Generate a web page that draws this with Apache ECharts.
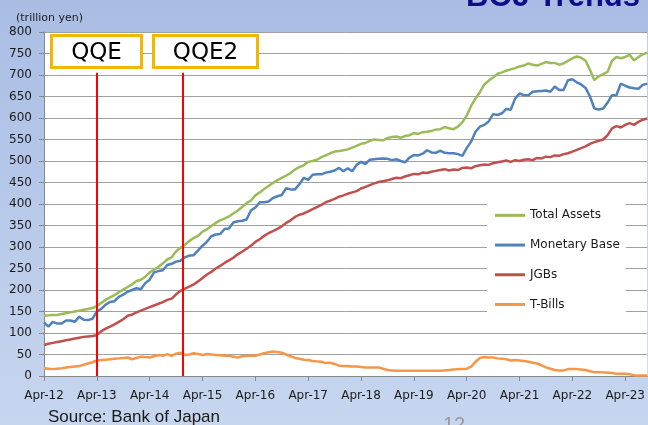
<!DOCTYPE html>
<html>
<head>
<meta charset="utf-8">
<script src="https://cdn.jsdelivr.net/npm/echarts@6/dist/echarts.min.js"></script>
<style>
html, body { margin: 0; padding: 0; }
#chart { width: 648px; height: 425px; background: linear-gradient(#a9bde4, #c7d6ef); }
</style>
</head>
<body>
<div id="chart"></div>
<script>
// monthly, Apr-12 (index 0) .. Sep-23 (index 137)
const tickLabels = ['Apr-12', 'Apr-13', 'Apr-14', 'Apr-15', 'Apr-16', 'Apr-17',
  'Apr-18', 'Apr-19', 'Apr-20', 'Apr-21', 'Apr-22', 'Apr-23'];

const totalAssets = [
  140, 141, 142, 142, 144, 146, 148, 150, 152, 154, 156, 158, 163,
  170, 177, 183, 188, 195, 201, 207, 213, 221, 224, 231, 241,
  247, 254, 262, 271, 276, 290, 298, 305, 314, 321, 326, 336,
  341, 349, 356, 362, 366, 371, 378, 385, 393, 402, 408, 420,
  427, 435, 442, 449, 455, 461, 466, 472, 480, 486, 490, 498,
  500, 503, 509, 513, 518, 522, 523, 525, 527, 531, 535, 540,
  542, 547, 550, 549, 548, 553, 556, 557, 554, 558, 560, 565,
  563, 567, 568, 570, 573, 574, 579, 576, 574, 580, 590, 606,
  628, 645, 660, 678, 687, 694, 703, 706, 710, 713, 716, 720,
  722, 727, 724, 722, 726, 730, 728, 728, 724, 727, 733, 739,
  743, 740, 733, 712, 688, 697, 702, 707, 733, 742, 739, 742,
  747, 734, 742, 748, 752
];
const monetaryBase = [
  124, 115, 126, 122, 122, 129, 129, 126, 138, 131, 130, 133, 150,
  156, 166, 172, 174, 184, 189, 196, 200, 204, 202, 216, 224,
  241, 244, 246, 258, 261, 266, 268, 276, 280, 281, 292, 303,
  312, 325, 329, 330, 342, 343, 357, 360, 361, 364, 385, 392,
  404, 404, 406, 414, 418, 421, 437, 434, 434, 446, 461, 456,
  468, 469, 469, 473, 475, 478, 484, 476, 483, 476, 491, 498,
  493, 503, 504, 505, 506, 505, 502, 504, 500, 497, 508, 514,
  513, 517, 525, 520, 519, 524, 519, 518, 518, 516, 512, 530,
  545, 568, 580, 584, 592, 609, 607, 611, 621, 619, 645, 657,
  653, 653, 661, 662, 663, 664, 661, 673, 665, 665, 688, 690,
  683, 678, 670, 650, 622, 620, 622, 636, 653, 653, 680, 675,
  671, 669, 668, 677, 680
];
const jgbs = [
  72, 75, 77, 79, 81, 83, 85, 87, 89, 91, 92, 93, 95,
  104, 110, 115, 120, 126, 132, 140, 143, 148, 152, 156, 160,
  164, 168, 172, 177, 180, 190, 198, 203, 208, 213, 220, 228,
  236, 242, 250, 256, 263, 269, 275, 283, 289, 296, 303, 312,
  318, 326, 332, 337, 342, 348, 356, 362, 370, 375, 378, 383,
  388, 393, 398, 404, 408, 412, 417, 420, 424, 427, 430, 436,
  440, 444, 448, 451, 453, 455, 458, 461, 460, 464, 467, 470,
  469, 473, 472, 475, 477, 479, 481, 478, 480, 479, 484, 485,
  483, 488, 490, 492, 491, 495, 497, 499, 501, 498, 502, 500,
  503, 504, 502, 507, 506, 510, 509, 513, 512, 516, 518, 522,
  526, 530, 534, 540, 544, 547, 550, 560, 576, 581, 578, 584,
  588, 584, 591, 596, 599
];
const tBills = [
  18, 17, 16, 17, 18, 20, 21, 22, 23, 26, 29, 32, 36,
  37, 38, 39, 40, 41, 42, 43, 39, 42, 45, 44, 43,
  46, 49, 47, 51, 47, 52, 54, 49, 50, 53, 51, 49,
  51, 50, 49, 48, 47, 47, 45, 43, 46, 47, 47, 47,
  50, 53, 55, 57, 56, 54, 50, 46, 42, 40, 38, 37,
  35, 34, 33, 30, 31, 28, 24, 23, 23, 22, 22, 21,
  20, 20, 20, 20, 17, 14, 13, 12, 12, 12, 12, 12,
  12, 12, 12, 12, 12, 12, 13, 14, 15, 16, 16, 17,
  22, 33, 42, 44, 43, 43, 41, 40, 39, 36, 37, 36,
  35, 33, 31, 29, 25, 20, 17, 14, 13, 13, 16, 16,
  16, 15, 14, 11, 9, 9, 8, 8, 7, 5, 5, 5,
  4, 2, 1, 1, 1
];
// policy start months (QQE Apr-13, QQE2 end Oct-14)
const eventMonths = [12, 31.5];

const names = ['Total Assets', 'Monetary Base', 'JGBs', 'T-Bills'];
const colors = ['#9bbb59', '#4f81bd', '#c0504d', '#f79646'];
const values = [totalAssets, monetaryBase, jgbs, tBills];

const font = 'DejaVu Sans';

const series = names.map((name, k) => ({
  name: name,
  type: 'line',
  symbol: 'none',
  showSymbol: false,
  color: colors[k],
  lineStyle: { width: 2.5, color: colors[k] },
  data: values[k].map((v, i) => [i, v]),
  z: 3
}));

series[3].markLine = {
  silent: true,
  symbol: 'none',
  label: { show: false },
  lineStyle: { color: '#ff0000', width: 2, type: 'solid' },
  data: eventMonths.map(m => [{ coord: [m, 0] }, { coord: [m, 705] }])
};

const chart = echarts.init(document.getElementById('chart'));
chart.setOption({
  animation: false,
  grid: {
    left: 44, right: -2, top: 32, bottom: 49,
    show: true, backgroundColor: '#ffffff', borderWidth: 0
  },
  xAxis: {
    type: 'value',
    min: 0,
    max: totalAssets.length - 1,
    interval: 12,
    splitLine: { show: false },
    axisLine: { lineStyle: { color: '#888888' } },
    axisTick: { show: true, length: 5, lineStyle: { color: '#888888' } },
    axisLabel: {
      margin: 14,
      fontFamily: font,
      fontSize: 12,
      color: '#1a1a1a',
      showMaxLabel: false,
      formatter: v => (v % 12 === 0 && tickLabels[v / 12]) ? tickLabels[v / 12] : ''
    }
  },
  yAxis: {
    type: 'value',
    min: 0,
    max: 800,
    interval: 50,
    axisLine: { show: true, lineStyle: { color: '#888888' } },
    axisTick: { show: true, length: 5, lineStyle: { color: '#888888' } },
    splitLine: { lineStyle: { color: '#a0a0a0', width: 1 } },
    axisLabel: { margin: 12, fontFamily: font, fontSize: 12, color: '#1a1a1a' }
  },
  legend: {
    orient: 'vertical',
    left: 487,
    top: 190,
    backgroundColor: '#ffffff',
    padding: [18, 6, 12, 8],
    icon: 'rect',
    itemGap: 15,
    itemWidth: 30,
    itemHeight: 3,
    textStyle: { fontFamily: font, fontSize: 12, color: '#1a1a1a', lineHeight: 14.7 },
    data: names
  },
  graphic: [
    {
      type: 'text',
      style: { x: 640, y: 13, text: 'BOJ Trends', textAlign: 'right', textVerticalAlign: 'bottom',
        font: 'bold 31px "Liberation Sans"', fill: '#0d0d8a' }
    },
    {
      type: 'text',
      style: { x: 16, y: 18, text: '(trillion yen)', textVerticalAlign: 'middle',
        font: '11px "DejaVu Sans"', fill: '#1a1a1a' }
    },
    {
      type: 'rect', z: 10,
      shape: { x: 51.5, y: 35.5, width: 90, height: 32 },
      style: { fill: '#ffffff', stroke: '#f2b700', lineWidth: 3 }
    },
    {
      type: 'text', z: 11,
      style: { x: 96.5, y: 53, text: 'QQE', textAlign: 'center', textVerticalAlign: 'middle',
        font: '23px "DejaVu Sans"', fill: '#000000' }
    },
    {
      type: 'rect', z: 10,
      shape: { x: 153.5, y: 35.5, width: 104, height: 32 },
      style: { fill: '#ffffff', stroke: '#f2b700', lineWidth: 3 }
    },
    {
      type: 'text', z: 11,
      style: { x: 205.5, y: 53, text: 'QQE2', textAlign: 'center', textVerticalAlign: 'middle',
        font: '23px "DejaVu Sans"', fill: '#000000' }
    },
    {
      type: 'text',
      style: { x: 48, y: 417, text: 'Source: Bank of Japan', textVerticalAlign: 'middle',
        font: '17px "Liberation Sans"', fill: '#1a1a1a' }
    },
    {
      type: 'text',
      style: { x: 443, y: 415, text: '12', font: '20px "Liberation Sans"', fill: '#9a9a9a' }
    }
  ],
  series: series
});
</script>
</body>
</html>
